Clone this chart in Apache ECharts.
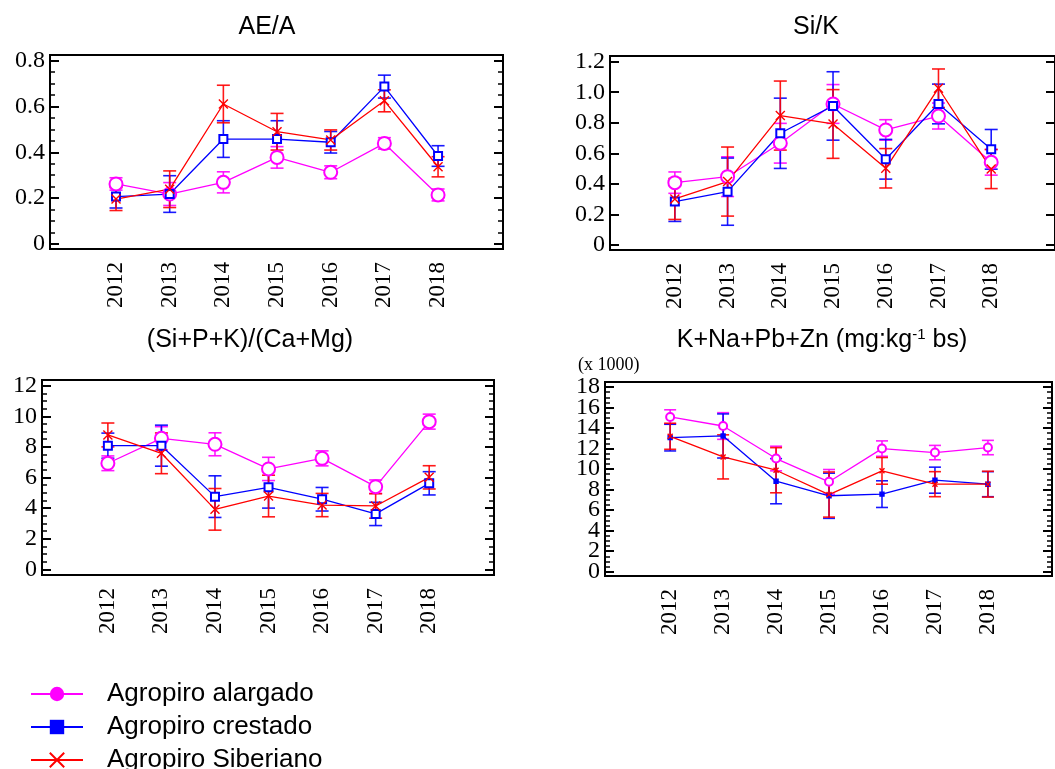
<!DOCTYPE html>
<html>
<head>
<meta charset="utf-8">
<script src="https://cdn.jsdelivr.net/npm/echarts@6/dist/echarts.min.js"></script>
<style>
html,body{margin:0;padding:0;background:#fff;}
#chart{width:1055px;height:769px;}
</style>
</head>
<body>
<div id="chart"></div>
<script>
// ---------- data ----------
const years = [2012, 2013, 2014, 2015, 2016, 2017, 2018];
const seriesNames = ['Agropiro alargado', 'Agropiro crestado', 'Agropiro Siberiano'];

// AE/A
const aeaAlargado = [0.262, 0.218, 0.269, 0.378, 0.313, 0.439, 0.214];
const aeaAlargadoErr = [0.027, 0.05, 0.046, 0.047, 0.028, 0.025, 0.026];
const aeaCrestado = [0.207, 0.218, 0.458, 0.458, 0.444, 0.687, 0.384];
const aeaCrestadoErr = [0.05, 0.08, 0.08, 0.08, 0.047, 0.05, 0.045];
const aeaSiberiano = [0.196, 0.239, 0.611, 0.49, 0.454, 0.625, 0.337];
const aeaSiberianoErr = [0.05, 0.08, 0.082, 0.08, 0.044, 0.048, 0.044];

// Si/K
const sikAlargado = [0.408, 0.447, 0.666, 0.923, 0.753, 0.844, 0.541];
const sikAlargadoErr = [0.07, 0.13, 0.13, 0.127, 0.067, 0.085, 0.084];
const sikCrestado = [0.284, 0.349, 0.731, 0.91, 0.561, 0.923, 0.626];
const sikCrestadoErr = [0.13, 0.22, 0.23, 0.224, 0.13, 0.13, 0.13];
const sikSiberiano = [0.301, 0.415, 0.847, 0.792, 0.502, 1.026, 0.497];
const sikSiberianoErr = [0.134, 0.226, 0.226, 0.225, 0.129, 0.126, 0.128];

// (Si+P+K)/(Ca+Mg)
const ratAlargado = [6.93, 8.56, 8.17, 6.56, 7.25, 5.40, 9.65];
const ratAlargadoErr = [0.48, 0.76, 0.75, 0.76, 0.49, 0.44, 0.49];
const ratCrestado = [8.08, 8.08, 4.75, 5.36, 4.58, 3.62, 5.62];
const ratCrestadoErr = [0.82, 1.34, 1.36, 1.36, 0.77, 0.76, 0.76];
const ratSiberiano = [8.78, 7.58, 3.92, 4.79, 4.2, 4.14, 6.01];
const ratSiberianoErr = [0.78, 1.33, 1.36, 1.36, 0.76, 0.8, 0.76];

// K+Na+Pb+Zn (x 1000)
const knaAlargado = [15.08, 14.2, 11.03, 8.76, 12.0, 11.61, 12.1];
const knaAlargadoErr = [0.7, 1.3, 1.2, 1.2, 0.75, 0.7, 0.7];
const knaCrestado = [13.07, 13.23, 8.82, 7.4, 7.56, 8.92, 8.53];
const knaCrestadoErr = [1.3, 2.15, 2.2, 2.2, 1.3, 1.27, 1.22];
const knaSiberiano = [13.2, 11.19, 9.89, 7.52, 9.83, 8.53, 8.53];
const knaSiberianoErr = [1.27, 2.15, 2.2, 2.2, 1.3, 1.22, 1.26];

// tick labels
const aeaTicks = [0, 0.2, 0.4, 0.6, 0.8];
const sikTicks = [0, 0.2, 0.4, 0.6, 0.8, 1.0, 1.2];
const ratTicks = [0, 2, 4, 6, 8, 10, 12];
const knaTicks = [0, 2, 4, 6, 8, 10, 12, 14, 16, 18];

// ---------- layout / style ----------
const COLORS = ['#ff00ff', '#0000ff', '#ff0000'];
const XSYM = 'path://M0,0L10,10M10,0L0,10';
const SERIF = '"Liberation Serif", "DejaVu Serif", serif';
const SANS = '"Liberation Sans", Arial, sans-serif';
const TITLE_SIZE = 25;

const panels = [
  { grid: {left: 50, top: 55, width: 453, height: 194}, ymin: -0.022, ymax: 0.825, ticks: aeaTicks, minorSub: 4,
    fmt: v => v === 0 ? '0' : v.toFixed(1), big: true,
    data: [[aeaAlargado, aeaAlargadoErr], [aeaCrestado, aeaCrestadoErr], [aeaSiberiano, aeaSiberianoErr]] },
  { grid: {left: 610, top: 56, width: 452, height: 194}, ymin: -0.033, ymax: 1.237, ticks: sikTicks, minorSub: 0,
    fmt: v => v === 0 ? '0' : v.toFixed(1), big: true,
    data: [[sikAlargado, sikAlargadoErr], [sikCrestado, sikCrestadoErr], [sikSiberiano, sikSiberianoErr]] },
  { grid: {left: 42, top: 380, width: 452, height: 195}, ymin: -0.37, ymax: 12.37, ticks: ratTicks, minorSub: 4,
    fmt: v => String(v), big: true,
    data: [[ratAlargado, ratAlargadoErr], [ratCrestado, ratCrestadoErr], [ratSiberiano, ratSiberianoErr]] },
  { grid: {left: 605, top: 382, width: 447, height: 194}, ymin: -0.42, ymax: 18.49, ticks: knaTicks, minorSub: 4,
    fmt: v => String(v), big: false,
    data: [[knaAlargado, knaAlargadoErr], [knaCrestado, knaCrestadoErr], [knaSiberiano, knaSiberianoErr]] }
];

function minorValues(ticks, sub) {
  const out = [];
  if (!sub) return out;
  for (let i = 0; i < ticks.length - 1; i++) {
    const a = ticks[i], b = ticks[i + 1];
    for (let k = 1; k < sub; k++) out.push(a + (b - a) * k / sub);
  }
  return out;
}

function errRender(half) {
  return function (params, api) {
    const x = api.value(0), y = api.value(1), e = api.value(2);
    const hi = api.coord([x, y + e]), lo = api.coord([x, y - e]);
    const style = {stroke: api.visual('color'), lineWidth: 1.6, opacity: 0.9};
    return {type: 'group', children: [
      {type: 'line', shape: {x1: hi[0], y1: hi[1], x2: lo[0], y2: lo[1]}, style},
      {type: 'line', shape: {x1: hi[0] - half, y1: hi[1], x2: hi[0] + half, y2: hi[1]}, style},
      {type: 'line', shape: {x1: lo[0] - half, y1: lo[1], x2: lo[0] + half, y2: lo[1]}, style}
    ]};
  };
}

const grids = [], xAxes = [], yAxes = [], series = [];

// legend-only series (filled symbols)
const legendSymbols = ['circle', 'rect', XSYM];
seriesNames.forEach((n, i) => {
  series.push({
    name: n, type: 'line', data: [], xAxisIndex: 0, yAxisIndex: 0,
    symbol: legendSymbols[i], symbolSize: 12,
    itemStyle: {color: COLORS[i], borderColor: COLORS[i], borderWidth: i === 2 ? 1.5 : 0},
    lineStyle: {color: COLORS[i], width: 1.5}
  });
});

panels.forEach((p, gi) => {
  grids.push(Object.assign({show: true, borderColor: '#000', borderWidth: 2, backgroundColor: 'transparent', containLabel: false}, p.grid));
  xAxes.push({
    type: 'value', gridIndex: gi, min: 2010.77, max: 2019.21,
    axisLine: {show: true, onZero: false, lineStyle: {color: '#000', width: 2}},
    axisTick: {show: false},
    splitLine: {show: false},
    axisLabel: {customValues: years, rotate: 90, margin: 13, color: '#000',
      fontFamily: SERIF, fontSize: 23, formatter: v => String(v)}
  });
  const minors = minorValues(p.ticks, p.minorSub);
  // split the labels over two axes so that tightly packed labels are all kept
  const labelsA = p.ticks.filter((v, i) => i % 2 === 0);
  const labelsB = p.ticks.filter((v, i) => i % 2 === 1);
  const labelStyle = {formatter: p.fmt, margin: 5, color: '#000', fontFamily: SERIF, fontSize: 24,
    showMinLabel: true, showMaxLabel: true, hideOverlap: false};
  const base = {type: 'value', gridIndex: gi, min: p.ymin, max: p.ymax, splitLine: {show: false}};
  yAxes.push(Object.assign({}, base, {
    position: 'left',
    axisLine: {show: true, onZero: false, lineStyle: {color: '#000', width: 2}},
    axisTick: {show: true, inside: true, length: 9, customValues: p.ticks, lineStyle: {color: '#000', width: 2}},
    axisLabel: Object.assign({show: true, customValues: labelsA}, labelStyle)
  }));
  yAxes.push(Object.assign({}, base, {
    position: 'left',
    axisLine: {show: false, onZero: false},
    axisTick: {show: minors.length > 0, inside: true, length: 5, customValues: minors.length ? minors : [p.ymin], lineStyle: {color: '#000', width: 1.5}},
    axisLabel: Object.assign({show: true, customValues: labelsB}, labelStyle)
  }));
  yAxes.push(Object.assign({}, base, {
    position: 'right',
    axisLine: {show: true, onZero: false, lineStyle: {color: '#000', width: 2}},
    axisTick: {show: true, inside: true, length: 9, customValues: p.ticks, lineStyle: {color: '#000', width: 2}},
    axisLabel: {show: false}
  }));
  yAxes.push(Object.assign({}, base, {
    position: 'right',
    axisLine: {show: false, onZero: false},
    axisTick: {show: minors.length > 0, inside: true, length: 5, customValues: minors.length ? minors : [p.ymin], lineStyle: {color: '#000', width: 1.5}},
    axisLabel: {show: false}
  }));

  const yi = gi * 4;
  const symbols = p.big
    ? [['emptyCircle', 13], ['emptyRect', 8], [XSYM, 9]]
    : [['emptyCircle', 8], ['rect', 4], [XSYM, 5]];
  p.data.forEach((pair, si) => {
    const vals = pair[0], errs = pair[1];
    series.push({
      name: seriesNames[si], type: 'custom', xAxisIndex: gi, yAxisIndex: yi,
      renderItem: errRender(p.big ? 6.5 : 6),
      itemStyle: {color: COLORS[si]},
      encode: {x: 0, y: 1},
      data: years.map((y, k) => [y, vals[k], errs[k]]),
      z: 2, silent: true
    });
    series.push({
      name: seriesNames[si], type: 'line', xAxisIndex: gi, yAxisIndex: yi,
      data: years.map((y, k) => [y, vals[k]]),
      symbol: symbols[si][0], symbolSize: symbols[si][1],
      showAllSymbol: true,
      itemStyle: {color: COLORS[si], borderColor: COLORS[si], borderWidth: 1.4},
      lineStyle: {color: COLORS[si], width: 1.3},
      z: 3, silent: true, animation: false
    });
  });
});

const option = {
  animation: false,
  backgroundColor: '#fff',
  grid: grids,
  xAxis: xAxes,
  yAxis: yAxes,
  series: series,
  legend: {
    data: seriesNames, orient: 'vertical', left: 30, top: 681, height: 140, padding: 0,
    itemWidth: 52, itemHeight: 18, itemGap: 7,
    selectedMode: false,
    textStyle: {fontFamily: SANS, fontSize: 26, color: '#000', padding: [0, 0, 0, 19]}
  },
  graphic: [
    {type: 'text', x: 267, y: 27, style: {text: 'AE/A', fontFamily: SANS, fontSize: TITLE_SIZE, fill: '#000', align: 'center', verticalAlign: 'middle'}},
    {type: 'text', x: 816, y: 27, style: {text: 'Si/K', fontFamily: SANS, fontSize: TITLE_SIZE, fill: '#000', align: 'center', verticalAlign: 'middle'}},
    {type: 'text', x: 250, y: 340, style: {text: '(Si+P+K)/(Ca+Mg)', fontFamily: SANS, fontSize: TITLE_SIZE, fill: '#000', align: 'center', verticalAlign: 'middle'}},
    {type: 'text', x: 822, y: 340, style: {text: 'K+Na+Pb+Zn (mg:kg{sup|-1} bs)', fontFamily: SANS, fontSize: TITLE_SIZE, fill: '#000', align: 'center', verticalAlign: 'middle',
      rich: {sup: {fontFamily: SANS, fontSize: 15, fill: '#000', verticalAlign: 'top', lineHeight: TITLE_SIZE}}}},
    {type: 'text', x: 578, y: 365, style: {text: '(x 1000)', fontFamily: SERIF, fontSize: 18, fill: '#000', align: 'left', verticalAlign: 'middle'}}
  ]
};

const chart = echarts.init(document.getElementById('chart'), null, {renderer: 'canvas'});
chart.setOption(option);
</script>
</body>
</html>
